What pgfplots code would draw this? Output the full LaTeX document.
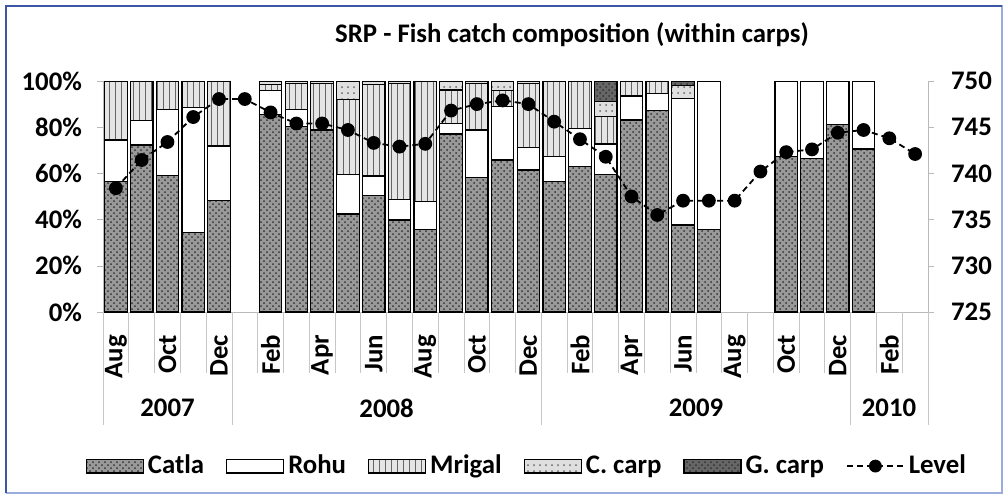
\documentclass[border=0pt]{standalone}
\usepackage{pgfplots}
\pgfplotsset{compat=1.18}
\usepackage{pgfplotstable}
\usepackage{fontspec}
\setmainfont{Carlito}
\usetikzlibrary{patterns}
\definecolor{framedark}{RGB}{60,85,165}
\definecolor{framelight}{RGB}{155,172,222}
\newcommand\lbl{\fontsize{13.4}{16}\selectfont\bfseries}

\pgfplotstableread{
x catla rohu mrigal ccarp gcarp
0 56.5 18 25.5 0 0
1 72.3 10.5 17.2 0 0
2 59 28.7 12.3 0 0
3 34.3 54.3 11.4 0 0
4 48.2 23.7 28.1 0 0
5 0 0 0 0 0
6 85.5 10.5 2.5 1.5 0
7 80.2 7.5 11.3 1 0
8 78.8 0 20.2 1 0
9 42.4 17.2 32.5 7.9 0
10 50.6 8.3 39.6 1.5 0
11 39.8 9 50.2 1 0
12 35.8 12 52.2 0 0
13 77.1 4.6 14.4 3.9 0
14 58.3 20.5 20.2 1 0
15 65.8 23.1 7.1 4 0
16 61.5 9.8 27.7 1 0
17 56.4 10.8 32.8 0 0
18 62.9 16.6 20.5 0 0
19 59.7 13 11.8 6.5 9
20 83.1 10.4 6.5 0 0
21 87.1 7.6 5.3 0 0
22 37.7 54.8 0 5.5 2
23 35.8 64.2 0 0 0
24 0 0 0 0 0
25 0 0 0 0 0
26 67.2 32.8 0 0 0
27 66.5 33.5 0 0 0
28 81 19 0 0 0
29 70.6 29.4 0 0 0
30 0 0 0 0 0
31 0 0 0 0 0
}\carps

\pgfplotstableread{
x level
0 738.4
1 741.45
2 743.4
3 746.1
4 748.05
5 748.05
6 746.6
7 745.4
8 745.4
9 744.7
10 743.3
11 742.9
12 743.2
13 746.8
14 747.5
15 747.9
16 747.5
17 745.6
18 743.7
19 741.8
20 737.5
21 735.5
22 737.05
23 737.05
24 737.05
25 740.2
26 742.3
27 742.6
28 744.4
29 744.7
30 743.8
31 742.1
}\levels

\begin{document}
\begin{tikzpicture}[x=0.5pt,y=0.5pt]
\path[use as bounding box] (0,0) rectangle (1007,495);
\draw[framelight, line width=1pt] (6,489) -- (1002,489) -- (1002,2) -- (6,2);
\draw[framedark, line width=1pt] (1002,489) -- (6,489) -- (6,2);

\node[font=\lbl] at (572,460) {SRP - Fish catch composition (within carps)};

\begin{axis}[
  at={(51.5pt,91.5pt)}, anchor=south west, scale only axis,
  width=412.5pt, height=115.5pt,
  xmin=-0.5, xmax=31.5, ymin=0, ymax=100,
  ybar stacked, bar width=11.25pt,
  axis x line*=bottom, axis y line*=left,
  axis line style={gray!55},
  tick align=outside, major tick length=3pt,
  ytick={0,20,...,100},
  yticklabel={\pgfmathprintnumber[assume math mode=true]{\tick}\%},
  ytick style={gray!55},
  yticklabel shift=4pt,
  xtick={0,2,...,30},
  xticklabels={Aug,Oct,Dec,Feb,Apr,Jun,Aug,Oct,Dec,Feb,Apr,Jun,Aug,Oct,Dec,Feb},
  xtick style={draw=none},
  xticklabel shift=5pt,
  xticklabel style={rotate=90, anchor=east, font=\lbl},
  yticklabel style={font=\lbl},
  legend style={at={(0.515,-0.667)}, anchor=center, draw=none, font=\lbl,
    legend columns=-1, /tikz/every even column/.append style={column sep=9pt}},
  legend image code/.code={\draw[#1] (0cm,-0.12cm) rectangle (1cm,0.12cm);},
]
\addplot[draw=black, line width=0.6pt, fill=gray!80, postaction={pattern=crosshatch dots, pattern color=black!80}] table[x=x,y=catla] {\carps};
\addlegendentry{Catla}
\addplot[draw=black, line width=0.6pt, fill=white] table[x=x,y=rohu] {\carps};
\addlegendentry{Rohu}
\addplot[draw=black, line width=0.6pt, fill=gray!20, postaction={pattern=vertical lines, pattern color=black!60}] table[x=x,y=mrigal] {\carps};
\addlegendentry{Mrigal}
\addplot[draw=black, line width=0.6pt, fill=gray!25, postaction={pattern=dots, pattern color=gray!80!black}] table[x=x,y=ccarp] {\carps};
\addlegendentry{C. carp}
\addplot[draw=black, line width=0.6pt, fill=black!60, postaction={pattern=crosshatch dots, pattern color=black!80}] table[x=x,y=gcarp] {\carps};
\addlegendentry{G. carp}
\addlegendimage{legend image code/.code={\draw[black, densely dashed, line width=0.9pt] (0cm,0cm) -- (1cm,0cm); \fill[black] (0.5cm,0cm) circle (3pt);}}
\addlegendentry{Level}
\end{axis}

\begin{axis}[
  at={(51.5pt,91.5pt)}, anchor=south west, scale only axis,
  width=412.5pt, height=115.5pt,
  xmin=-0.5, xmax=31.5, ymin=725, ymax=750,
  axis x line=none, axis y line*=right,
  axis line style={gray!55},
  tick align=outside, major tick length=3pt,
  ytick={725,730,...,750},
  ytick style={gray!55},
  yticklabel style={font=\lbl, xshift=5pt, /pgf/number format/assume math mode=true},
]
\addplot[black, densely dashed, line width=0.9pt, mark=*, mark size=3pt, mark options={solid}] table[x=x,y=level] {\levels};
\end{axis}

\foreach \i in {0,...,32} \draw[gray!45] ({103+\i*25.78125},183) -- ++(0,-61);
\foreach \i in {0,5,17,29,32} \draw[gray!45] ({103+\i*25.78125},183) -- ++(0,-113);
\node[font=\lbl] at (167.5,87) {2007};
\node[font=\lbl] at (386.6,87) {2008};
\node[font=\lbl] at (696,87) {2009};
\node[font=\lbl] at (889,87) {2010};
\end{tikzpicture}
\end{document}
